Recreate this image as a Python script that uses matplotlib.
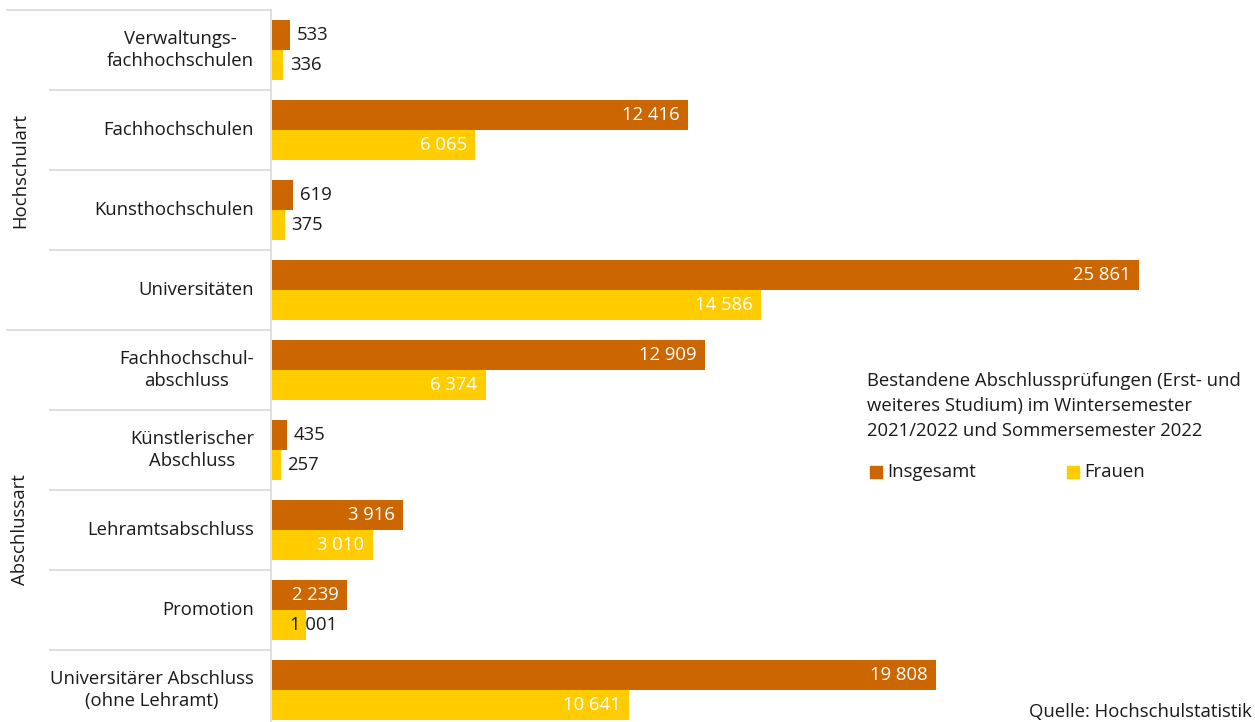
import matplotlib
matplotlib.use("Agg")
from matplotlib import pyplot as plt
from matplotlib.lines import Line2D
from matplotlib.patches import Rectangle

plt.rcParams['font.family'] = ['Open Sans', 'DejaVu Sans']

# Kategorien und Werte
categories = ["Verwaltungs-\nfachhochschulen", "Fachhochschulen", "Kunsthochschulen",
              "Universitäten", "Fachhochschul-\nabschluss", "Künstlerischer\nAbschluss",
              "Lehramtsabschluss", "Promotion", "Universitärer Abschluss\n(ohne Lehramt)"]
insgesamt = [533, 12416, 619, 25861, 12909, 435, 3916, 2239, 19808]
frauen = [336, 6065, 375, 14586, 6374, 257, 3010, 1001, 10641]
groups = ["Hochschulart", "Abschlussart"]
group_sizes = [4, 5]
legend_title = "Bestandene Abschlussprüfungen (Erst- und\nweiteres Studium) im Wintersemester\n2021/2022 und Sommersemester 2022"
source = "Quelle: Hochschulstatistik"

ORANGE = "#CC6600"
YELLOW = "#FFCC00"
GRID = "#D9D9D9"
TXT = "#1A1A1A"
FS = 13.3

W, H = 1255, 722
fig = plt.figure(figsize=(W / 100, H / 100), dpi=100)


def fx(px):
    return px / W


def fy(py):
    return 1 - py / H


# Zeichenfläche: jede Kategorie 80 px hoch, unten abgeschnitten
ax_left, ax_top, row_h = 272, 10, 80
n = len(categories)
ax = fig.add_axes([fx(ax_left), fy(ax_top + n * row_h), fx(W - ax_left), (n * row_h) / H])
ax.set_xlim(0, (W - ax_left) / 0.03353)
ax.set_ylim(n, 0)
ax.axis("off")

bar_h = 30 / row_h
for i in range(n):
    y_top = i + 10 / row_h
    ax.barh(y_top + bar_h / 2, insgesamt[i], height=bar_h, color=ORANGE)
    ax.barh(y_top + bar_h * 1.5, frauen[i], height=bar_h, color=YELLOW)


def fmt(v):
    return f"{v:,}".replace(",", " ")


def label(v, y):
    if v >= 2000:
        ax.annotate(fmt(v), (v, y), xytext=(-6, 0), textcoords="offset points",
                    ha="right", va="center", color="white", fontsize=FS)
    elif v >= 1000:
        ax.annotate(fmt(v), (0, y), xytext=(13, 0), textcoords="offset points",
                    ha="left", va="center", color=TXT, fontsize=FS)
    else:
        ax.annotate(fmt(v), (v, y), xytext=(5, 0), textcoords="offset points",
                    ha="left", va="center", color=TXT, fontsize=FS)


for i in range(n):
    y_top = i + 10 / row_h
    label(insgesamt[i], y_top + bar_h / 2)
    label(frauen[i], y_top + bar_h * 1.5)

# Kategoriebeschriftungen
for i, cat in enumerate(categories):
    fig.text(fx(254), fy(ax_top + i * row_h + row_h / 2), cat, ha="right", va="center",
             multialignment="center", fontsize=FS, color=TXT, linespacing=1.35)

# Trennlinien links
fig.add_artist(Line2D([fx(271), fx(271)], [fy(ax_top), 0], color=GRID, lw=1.2))
start = 0
for g, size in zip(groups, group_sizes):
    for k in range(size):
        py = ax_top + (start + k) * row_h
        x0 = 7 if k == 0 else 50
        fig.add_artist(Line2D([fx(x0), fx(271)], [fy(py), fy(py)], color=GRID, lw=1.2))
    center = ax_top + (start + size / 2) * row_h
    fig.text(fx(20), fy(center), g, rotation=90, ha="center", va="center",
             fontsize=FS, color=TXT)
    start += size

# Legende
fig.text(fx(867), fy(372), legend_title, ha="left", va="top", fontsize=FS,
         color=TXT, linespacing=1.5)
for px, col, name in [(870, ORANGE, "Insgesamt"), (1067, YELLOW, "Frauen")]:
    fig.add_artist(Rectangle((fx(px), fy(478)), fx(12), 12 / H, color=col))
    fig.text(fx(px + 17), fy(472), name, ha="left", va="center", fontsize=FS, color=TXT)

fig.text(fx(1252), fy(721), source, ha="right", va="bottom", fontsize=FS, color=TXT)

fig.savefig("out.png", dpi=100)
